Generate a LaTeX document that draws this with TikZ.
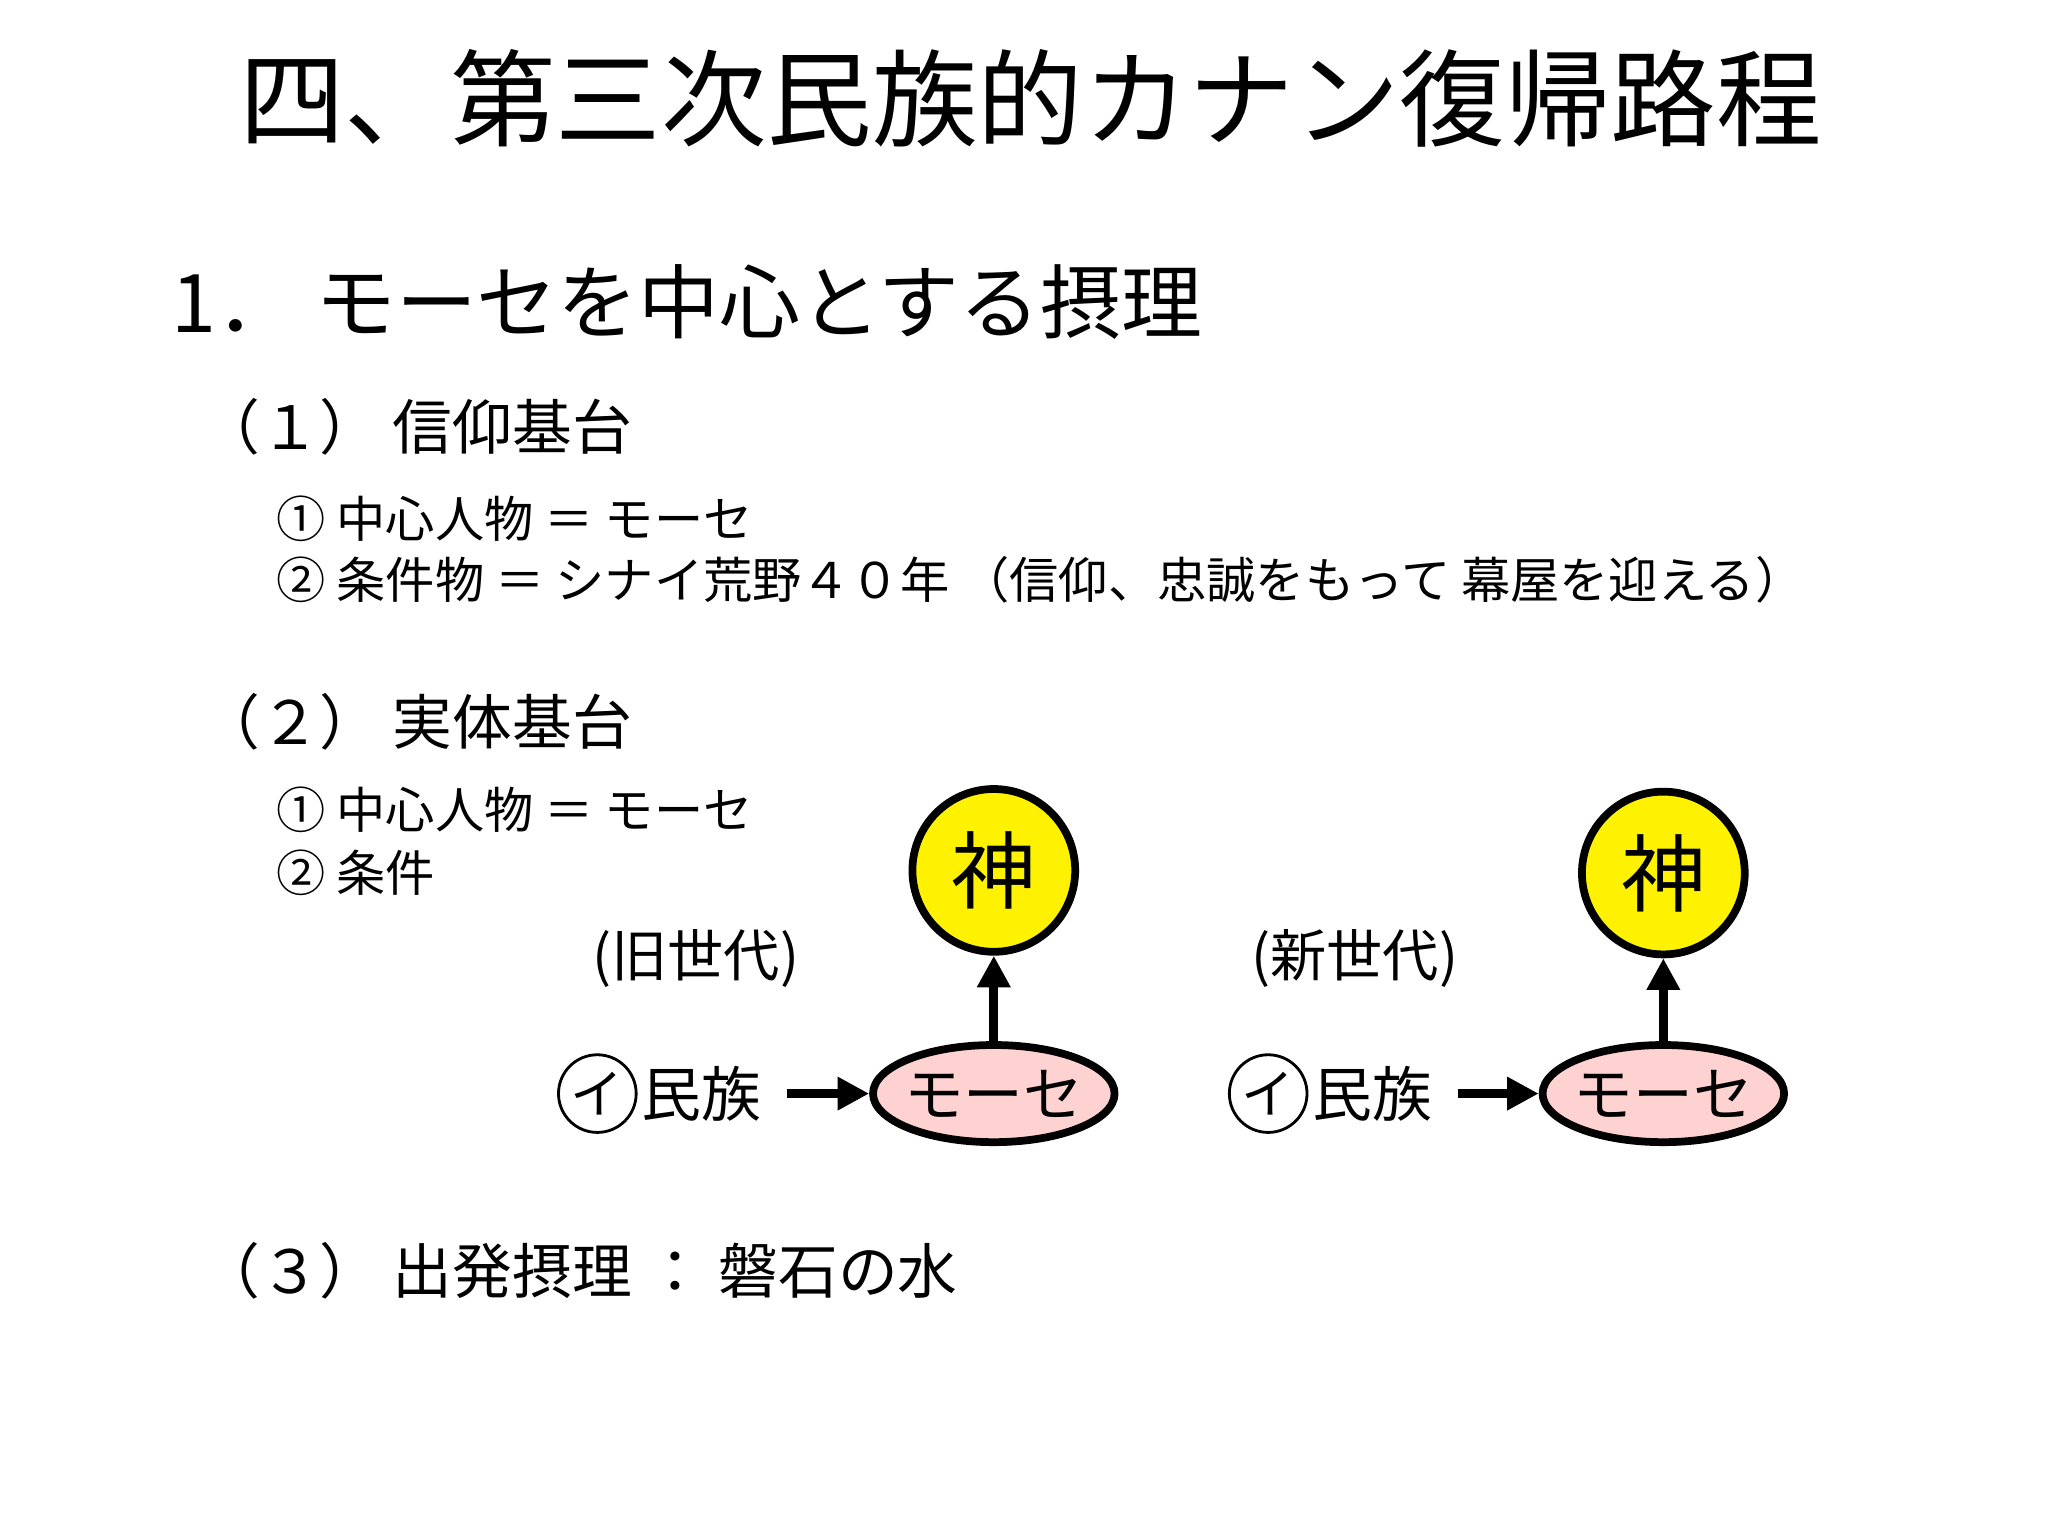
\documentclass[tikz,border=0pt]{standalone}
\usepackage{fontspec}
\setmainfont{Noto Sans CJK JP}
\usetikzlibrary{arrows.meta,shapes.geometric}
\begin{document}
\begin{tikzpicture}[x=0.013128cm,y=-0.013128cm,
  txt/.style={anchor=west,inner sep=0pt},
  god/.style={circle,draw,line width=2.2pt,fill=yellow,minimum size=124*0.013128cm,inner sep=0pt,font=\fontsize{24}{26}\selectfont},
  mose/.style={ellipse,draw,line width=2.2pt,fill=pink!70,minimum width=184*0.013128cm,minimum height=74*0.013128cm,inner sep=-6pt,font=\fontsize{17}{19}\selectfont},
  arr/.style={-{Triangle[length=9pt,width=9pt]},line width=2.5pt},
  ci/.style={circle,draw,line width=0.8pt,inner sep=1pt,font=\fontsize{15}{16}\selectfont}]
\useasboundingbox[fill=white] (0,0) rectangle (1560,1170);
\node (title) at (785,75) {\fontsize{30}{33}\selectfont 四、第三次民族的カナン復帰路程};
\node[txt] (h1) at (130,230) {\fontsize{23}{26}\selectfont 1．\ モーセを中心とする摂理};
\node[txt] (s1) at (152,325) {\fontsize{17}{20}\selectfont （１）\ 信仰基台};
\node[txt] (a1) at (210,395) {\fontsize{14}{16}\selectfont ① 中心人物 ＝ モーセ};
\node[txt] (a2) at (210,442) {\fontsize{14}{16}\selectfont ② 条件物 ＝ シナイ荒野４０年 （信仰、忠誠をもって 幕屋を迎える）};
\node[txt] (s2) at (152,550) {\fontsize{17}{20}\selectfont （２）\ 実体基台};
\node[txt] (b1) at (210,617) {\fontsize{14}{16}\selectfont ① 中心人物 ＝ モーセ};
\node[txt] (b2) at (210,665) {\fontsize{14}{16}\selectfont ② 条件};
\node (old) at (530,730) {\fontsize{16}{18}\selectfont (旧世代)};
\node (new) at (1032,730) {\fontsize{16}{18}\selectfont (新世代)};
\node[god] (g1) at (757,663) {神};
\node[god] (g2) at (1267,665) {神};
\node[mose] (m1) at (757,833) {モーセ};
\node[mose] (m2) at (1267,833) {モーセ};
\node[ci] (c1) at (455,833) {イ};
\node[anchor=west,inner sep=1pt,font=\fontsize{17}{19}\selectfont] (p1) at (c1.east) {民族};
\node[ci] (c2) at (966,833) {イ};
\node[anchor=west,inner sep=1pt,font=\fontsize{17}{19}\selectfont] (p2) at (c2.east) {民族};
\draw[arr] ([xshift=6pt]p1.east) -- (m1.west);
\draw[arr] ([xshift=6pt]p2.east) -- (m2.west);
\draw[arr] (m1.north) -- (g1.south);
\draw[arr] (m2.north) -- (g2.south);
\node[txt] (s3) at (152,968) {\fontsize{17}{20}\selectfont （３）\ 出発摂理 ： 磐石の水};
\end{tikzpicture}
\end{document}
